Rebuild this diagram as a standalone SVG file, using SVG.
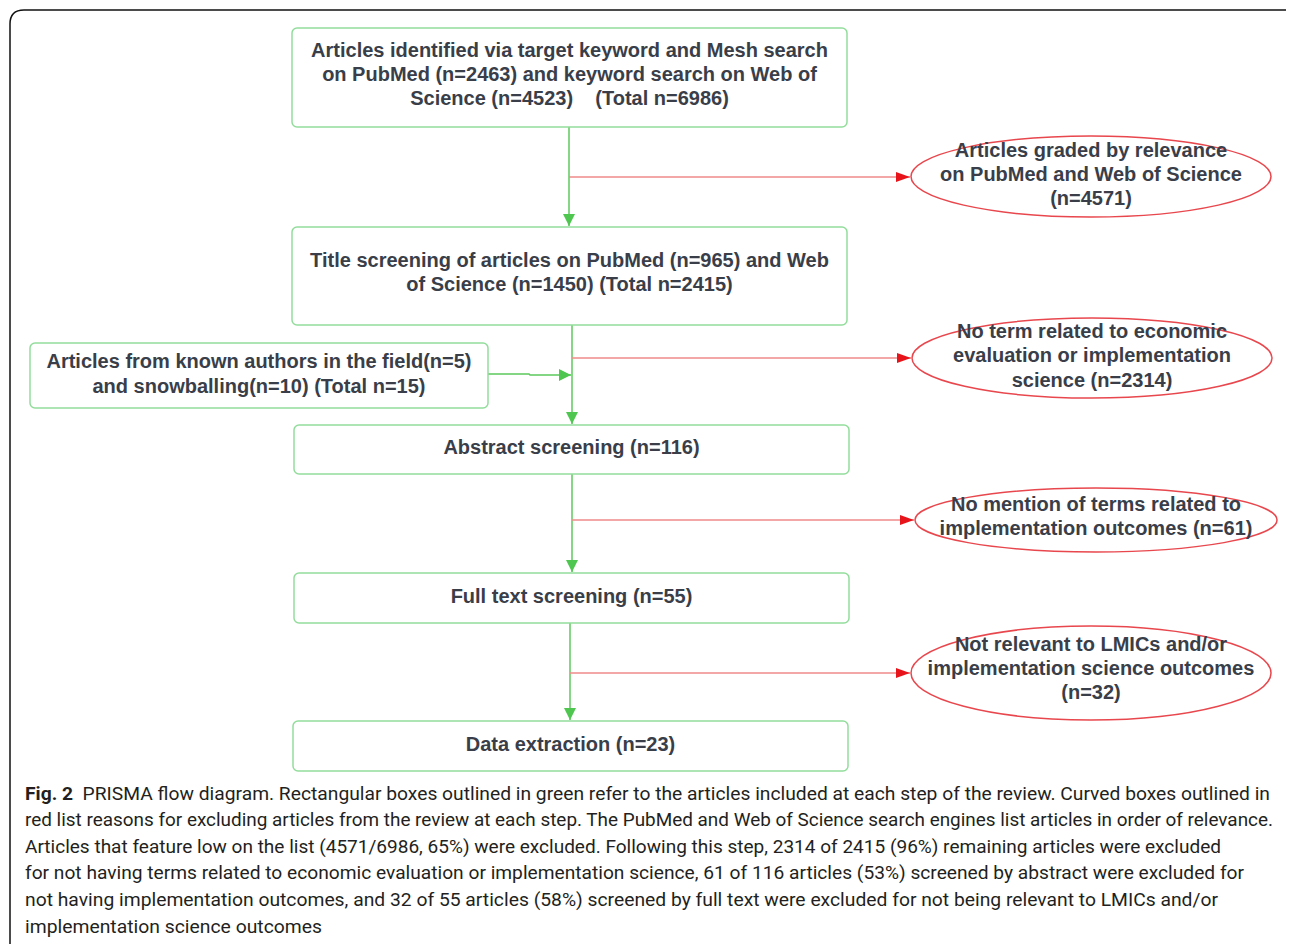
<svg xmlns="http://www.w3.org/2000/svg" width="1290" height="944" viewBox="0 0 1290 944">
<style>
.box{fill:#fff;stroke:#93dd9c;stroke-width:1.5}
.ell{fill:#fff;stroke:#e8474d;stroke-width:1.5}
.t{font-family:"Liberation Sans",Arial,sans-serif;font-weight:bold;font-size:20px;fill:#393e49;text-anchor:middle}
.g{stroke:#5cc95c;stroke-width:1.5;fill:none}
.r{stroke:#f08a8a;stroke-width:1.5;fill:none}
.cap{font-family:Roboto,"Open Sans",sans-serif;font-size:19px;fill:#231f20}
</style>
<defs>
<marker id="ag" markerWidth="12" markerHeight="12" refX="12" refY="6" orient="auto" markerUnits="userSpaceOnUse"><path d="M0,0 L12,6 L0,12 Z" fill="#4fc64f"/></marker>
<marker id="ar" markerWidth="14" markerHeight="10" refX="14" refY="5" orient="auto" markerUnits="userSpaceOnUse"><path d="M0,0 L14,5 L0,10 Z" fill="#e8141b"/></marker>
</defs>
<rect width="1290" height="944" fill="#fff"/>
<path d="M10,944 V24 Q10,10 24,10 H1286" fill="none" stroke="#111" stroke-width="1.5"/>
<g id="connectors">
<path class="g" d="M569,127 V226" marker-end="url(#ag)"/>
<path class="r" d="M569,177 H910" marker-end="url(#ar)"/>
<path class="g" d="M572,325 V424" marker-end="url(#ag)"/>
<path class="r" d="M572,358 H911" marker-end="url(#ar)"/>
<path class="g" d="M488,374 H529 L530,375 H571" marker-end="url(#ag)"/>
<path class="g" d="M572,474 V572" marker-end="url(#ag)"/>
<path class="r" d="M572,520 H914" marker-end="url(#ar)"/>
<path class="g" d="M570,623 V720" marker-end="url(#ag)"/>
<path class="r" d="M570,673 H910" marker-end="url(#ar)"/>
</g>
<g id="n1"><rect class="box" x="292" y="28" width="555" height="99" rx="5"/>
<text class="t" x="569.5" y="57">Articles identified via target keyword and Mesh search</text>
<text class="t" x="569.5" y="81">on PubMed (n=2463) and keyword search on Web of</text>
<text class="t" x="569.5" y="105" xml:space="preserve">Science (n=4523)    (Total n=6986)</text></g>
<g id="e1"><ellipse class="ell" cx="1091" cy="176.5" rx="180" ry="40.5"/>
<text class="t" x="1091" y="157">Articles graded by relevance</text>
<text class="t" x="1091" y="181">on PubMed and Web of Science</text>
<text class="t" x="1091" y="205">(n=4571)</text></g>
<g id="n2"><rect class="box" x="292" y="227" width="555" height="98" rx="5"/>
<text class="t" x="569.5" y="267">Title screening of articles on PubMed (n=965) and Web</text>
<text class="t" x="569.5" y="291">of Science (n=1450) (Total n=2415)</text></g>
<g id="n3"><rect class="box" x="30" y="343" width="458" height="65" rx="5"/>
<text class="t" x="259" y="368">Articles from known authors in the field(n=5)</text>
<text class="t" x="259" y="393">and snowballing(n=10) (Total n=15)</text></g>
<g id="e2"><ellipse class="ell" cx="1092" cy="358" rx="180" ry="40"/>
<text class="t" x="1092" y="338">No term related to economic</text>
<text class="t" x="1092" y="362">evaluation or implementation</text>
<text class="t" x="1092" y="387">science (n=2314)</text></g>
<g id="n4"><rect class="box" x="294" y="425" width="555" height="49" rx="5"/>
<text class="t" x="571.5" y="454">Abstract screening (n=116)</text></g>
<g id="e3"><ellipse class="ell" cx="1096" cy="520" rx="181" ry="32"/>
<text class="t" x="1096" y="511">No mention of terms related to</text>
<text class="t" x="1096" y="535">implementation outcomes (n=61)</text></g>
<g id="n5"><rect class="box" x="294" y="573" width="555" height="50" rx="5"/>
<text class="t" x="571.5" y="603">Full text screening (n=55)</text></g>
<g id="e4"><ellipse class="ell" cx="1091" cy="673" rx="180" ry="47"/>
<text class="t" x="1091" y="651">Not relevant to LMICs and/or</text>
<text class="t" x="1091" y="675">implementation science outcomes</text>
<text class="t" x="1091" y="699">(n=32)</text></g>
<g id="n6"><rect class="box" x="293" y="721" width="555" height="50" rx="5"/>
<text class="t" x="570.5" y="751">Data extraction (n=23)</text></g>
<g id="caption">
<text class="cap" x="25" y="800" textLength="1245" lengthAdjust="spacingAndGlyphs" xml:space="preserve"><tspan font-weight="bold">Fig. 2</tspan>  PRISMA flow diagram. Rectangular boxes outlined in green refer to the articles included at each step of the review. Curved boxes outlined in</text>
<text class="cap" x="25" y="826" textLength="1248" lengthAdjust="spacingAndGlyphs">red list reasons for excluding articles from the review at each step. The PubMed and Web of Science search engines list articles in order of relevance.</text>
<text class="cap" x="25" y="853" textLength="1196" lengthAdjust="spacingAndGlyphs">Articles that feature low on the list (4571/6986, 65%) were excluded. Following this step, 2314 of 2415 (96%) remaining articles were excluded</text>
<text class="cap" x="25" y="879" textLength="1219" lengthAdjust="spacingAndGlyphs">for not having terms related to economic evaluation or implementation science, 61 of 116 articles (53%) screened by abstract were excluded for</text>
<text class="cap" x="25" y="906" textLength="1193" lengthAdjust="spacingAndGlyphs">not having implementation outcomes, and 32 of 55 articles (58%) screened by full text were excluded for not being relevant to LMICs and/or</text>
<text class="cap" x="25" y="933" textLength="297" lengthAdjust="spacingAndGlyphs">implementation science outcomes</text>
</g>
</svg>
